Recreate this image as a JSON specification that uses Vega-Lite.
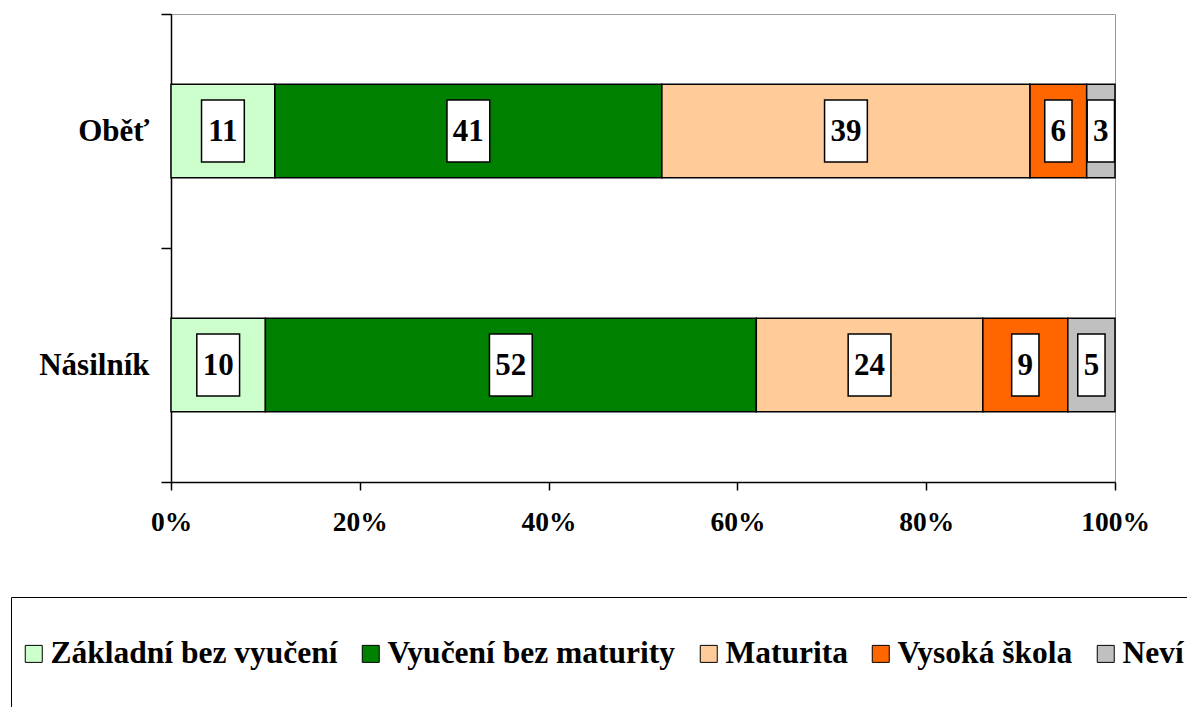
{
  "$schema": "https://vega.github.io/schema/vega-lite/v6.json",
  "width": 944,
  "height": 468,
  "autosize": {"type": "none"},
  "padding": {"left": 171, "top": 14, "right": 72, "bottom": 225},
  "background": "white",
  "config": {
    "view": {"stroke": "#9a9a9a", "strokeWidth": 1},
    "font": "Liberation Serif",
    "axis": {"domainColor": "black", "tickColor": "black", "labelColor": "black", "labelFont": "Liberation Serif", "labelFontWeight": "bold", "grid": false, "domainWidth": 1.5, "tickWidth": 1.5}
  },
  "data": {
    "values": [
      {"group": "Oběť", "category": "Základní bez vyučení", "order": 1, "value": 11},
      {"group": "Oběť", "category": "Vyučení bez maturity", "order": 2, "value": 41},
      {"group": "Oběť", "category": "Maturita", "order": 3, "value": 39},
      {"group": "Oběť", "category": "Vysoká škola", "order": 4, "value": 6},
      {"group": "Oběť", "category": "Neví", "order": 5, "value": 3},
      {"group": "Násilník", "category": "Základní bez vyučení", "order": 1, "value": 10},
      {"group": "Násilník", "category": "Vyučení bez maturity", "order": 2, "value": 52},
      {"group": "Násilník", "category": "Maturita", "order": 3, "value": 24},
      {"group": "Násilník", "category": "Vysoká škola", "order": 4, "value": 9},
      {"group": "Násilník", "category": "Neví", "order": 5, "value": 5}
    ]
  },
  "transform": [
    {"stack": "value", "groupby": ["group"], "sort": [{"field": "order", "order": "ascending"}], "offset": "normalize", "as": ["x0", "x1"]},
    {"calculate": "(datum.x0 + datum.x1) / 2", "as": "xmid"}
  ],
  "encoding": {
    "y": {
      "field": "group", "type": "nominal", "sort": ["Oběť", "Násilník"],
      "scale": {"paddingInner": 0, "paddingOuter": 0},
      "axis": {"title": null, "tickBand": "extent", "tickSize": 10, "labelFontSize": 31, "labelPadding": 12, "domain": true}
    }
  },
  "layer": [
    {
      "mark": {"type": "bar", "height": {"band": 0.4}, "stroke": "black", "strokeWidth": 1.5},
      "encoding": {
        "x": {"field": "x0", "type": "quantitative", "scale": {"domain": [0, 1], "nice": false},
          "axis": {"title": null, "values": [0, 0.2, 0.4, 0.6, 0.8, 1], "format": ".0%", "tickSize": 8, "labelFontSize": 27.5, "labelPadding": 18, "labelFlush": false}},
        "x2": {"field": "x1"},
        "color": {
          "field": "category", "type": "nominal",
          "scale": {
            "domain": ["Základní bez vyučení", "Vyučení bez maturity", "Maturita", "Vysoká škola", "Neví"],
            "range": ["#CCFFCC", "#008000", "#FFCC99", "#FF6600", "#C0C0C0"]
          },
          "legend": {
            "orient": "none", "legendX": -160, "legendY": 583,
            "direction": "horizontal", "columns": 5,
            "title": " ", "titleFontSize": 31, "titlePadding": 0,
            "strokeColor": "black", "padding": 10,
            "symbolType": "square", "symbolSize": 289, "symbolStrokeColor": "black", "symbolStrokeWidth": 1, "symbolOpacity": 1, "symbolOffset": -3,
            "labelFont": "Liberation Serif", "labelFontWeight": "bold", "labelFontSize": 31.5, "labelColor": "black",
            "labelExpr": "[datum.label, ' ']",
            "labelLimit": 0, "labelOffset": 1, "columnPadding": 20
          }
        }
      }
    },
    {
      "mark": {"type": "point", "filled": true, "fill": "white", "stroke": "black", "strokeWidth": 1.5, "opacity": 1, "size": 3844},
      "encoding": {
        "x": {"field": "xmid", "type": "quantitative"},
        "shape": {
          "condition": {"test": "datum.value < 10", "value": "M-0.44,-1H0.44V1H-0.44Z"},
          "value": "M-0.69,-1H0.69V1H-0.69Z"
        }
      }
    },
    {
      "mark": {"type": "text", "font": "Liberation Serif", "fontWeight": "bold", "fontSize": 31, "color": "black", "align": "center", "baseline": "middle", "dy": 1},
      "encoding": {
        "x": {"field": "xmid", "type": "quantitative"},
        "text": {"field": "value", "type": "quantitative"}
      }
    }
  ]
}
